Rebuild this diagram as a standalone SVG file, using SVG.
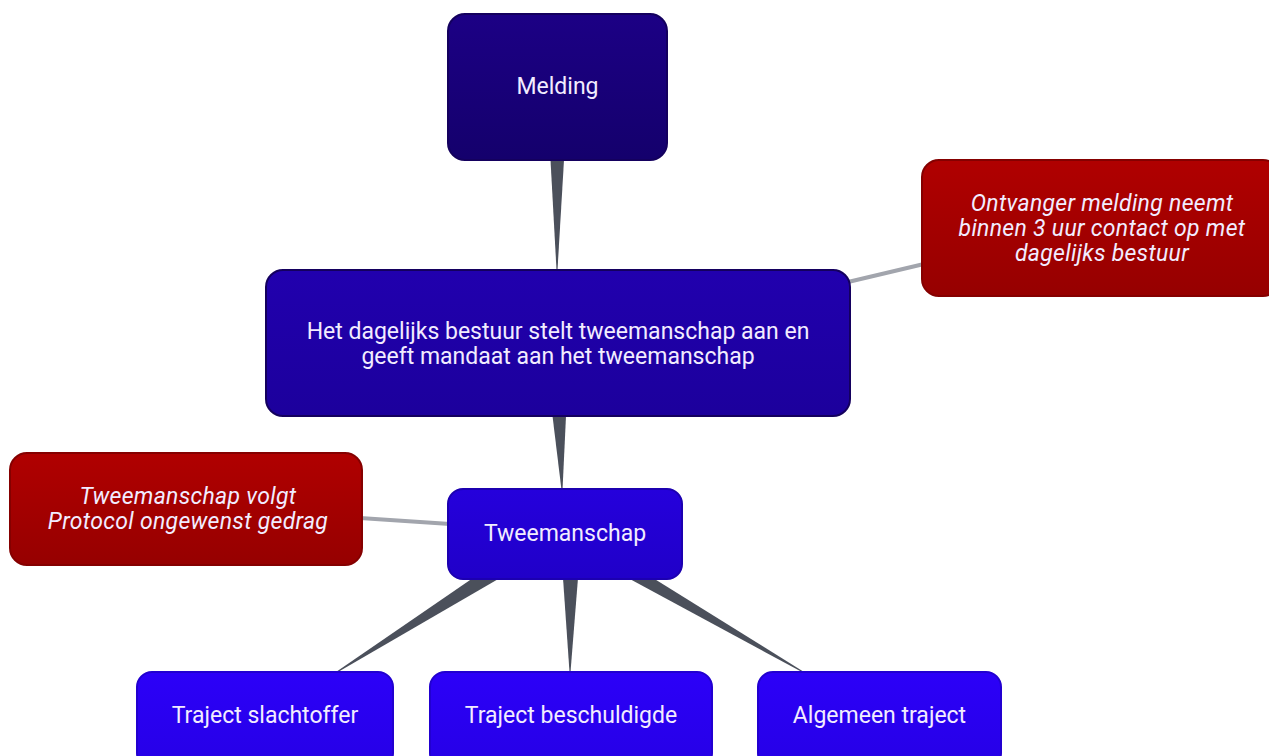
<svg xmlns="http://www.w3.org/2000/svg" width="1269" height="756" viewBox="0 0 1269 756">
  <defs>
    <linearGradient id="gMel" x1="0" y1="0" x2="0" y2="1"><stop offset="0" stop-color="#1c0085"/><stop offset="1" stop-color="#14006c"/></linearGradient>
    <linearGradient id="gMain" x1="0" y1="0" x2="0" y2="1"><stop offset="0" stop-color="#2100ae"/><stop offset="1" stop-color="#1c009c"/></linearGradient>
    <linearGradient id="gTwee" x1="0" y1="0" x2="0" y2="1"><stop offset="0" stop-color="#2500dc"/><stop offset="1" stop-color="#2000c8"/></linearGradient>
    <linearGradient id="gLeaf" x1="0" y1="0" x2="0" y2="1"><stop offset="0" stop-color="#2c00f8"/><stop offset="1" stop-color="#2600e6"/></linearGradient>
    <linearGradient id="gRed" x1="0" y1="0" x2="0" y2="1"><stop offset="0" stop-color="#b00000"/><stop offset="1" stop-color="#960000"/></linearGradient>
    <style>
      .box{stroke-width:2}
      .blue{stroke:#14005e}
      .red{stroke:#850000}
      .t{font-family:Roboto,"Liberation Sans",sans-serif;font-size:23px;fill:#f2ecff;text-anchor:middle}
      .ti{font-style:italic;font-size:23px;letter-spacing:0.3px}
      .wedge{fill:#4b505b}
      .thin{stroke:#a2a5ad;stroke-width:4;fill:none}
    </style>
  </defs>
  <rect width="1269" height="756" fill="#ffffff"/>
  <g id="connectors">
    <polygon class="wedge" points="550.5,160 564,160 557.5,270 556.5,270"/>
    <polygon class="wedge" points="552.5,416 566,416 562.5,490 561.5,490"/>
    <polygon class="wedge" points="473,578 500,578 338,672 336,672"/>
    <polygon class="wedge" points="563,578 578,578 570.5,672 569.5,672"/>
    <polygon class="wedge" points="628,578 653,578 804,672 802,672"/>
    <line class="thin" x1="848" y1="282" x2="924" y2="264"/>
    <line class="thin" x1="360" y1="518" x2="450" y2="524"/>
  </g>
  <g id="melding">
    <rect class="box blue" x="448" y="14" width="219" height="146" rx="17" fill="url(#gMel)"/>
    <text class="t" x="557.5" y="94">Melding</text>
  </g>
  <g id="ontvanger">
    <rect class="box red" x="922" y="160" width="358" height="136" rx="17" fill="url(#gRed)"/>
    <text class="t ti" x="1102" y="211">Ontvanger melding neemt</text>
    <text class="t ti" x="1102" y="236">binnen 3 uur contact op met</text>
    <text class="t ti" x="1102" y="261">dagelijks bestuur</text>
  </g>
  <g id="bestuur">
    <rect class="box blue" x="266" y="270" width="584" height="146" rx="17" fill="url(#gMain)"/>
    <text class="t" x="558" y="339">Het dagelijks bestuur stelt tweemanschap aan en</text>
    <text class="t" x="558" y="364">geeft mandaat aan het tweemanschap</text>
  </g>
  <g id="protocol">
    <rect class="box red" x="10" y="453" width="352" height="112" rx="17" fill="url(#gRed)"/>
    <text class="t ti" x="188" y="504">Tweemanschap volgt</text>
    <text class="t ti" x="188" y="529">Protocol ongewenst gedrag</text>
  </g>
  <g id="tweemanschap">
    <rect class="box" stroke="#1c00b0" x="448" y="489" width="234" height="90" rx="15" fill="url(#gTwee)"/>
    <text class="t" x="565" y="541">Tweemanschap</text>
  </g>
  <g id="slachtoffer">
    <rect class="box" stroke="#2200d0" x="137" y="672" width="256" height="96" rx="15" fill="url(#gLeaf)"/>
    <text class="t" x="265" y="723">Traject slachtoffer</text>
  </g>
  <g id="beschuldigde">
    <rect class="box" stroke="#2200d0" x="430" y="672" width="282" height="96" rx="15" fill="url(#gLeaf)"/>
    <text class="t" x="571" y="723">Traject beschuldigde</text>
  </g>
  <g id="algemeen">
    <rect class="box" stroke="#2200d0" x="758" y="672" width="243" height="96" rx="15" fill="url(#gLeaf)"/>
    <text class="t" x="879.5" y="723">Algemeen traject</text>
  </g>
</svg>
